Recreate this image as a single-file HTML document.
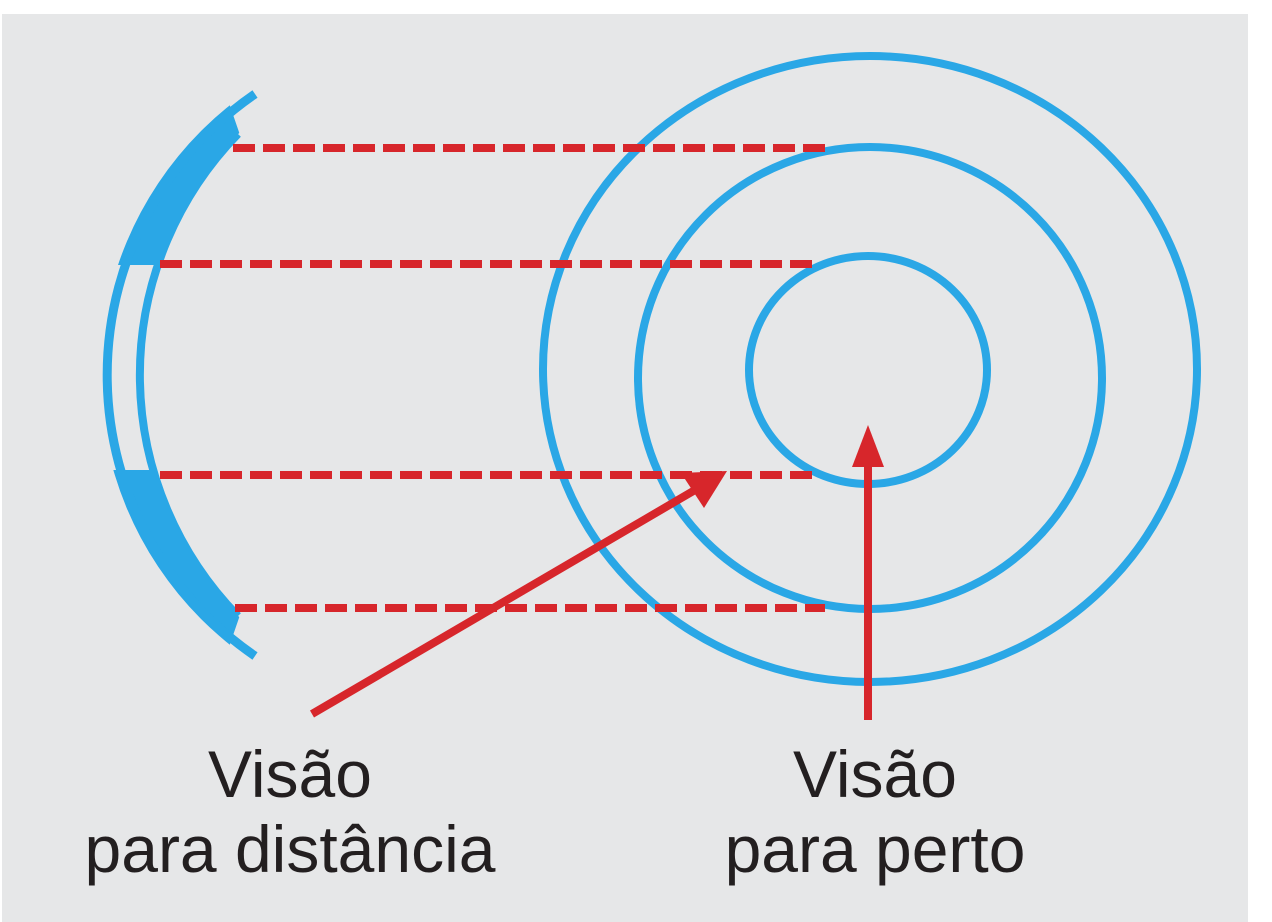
<!DOCTYPE html>
<html><head><meta charset="utf-8"><style>
html,body{margin:0;padding:0;background:#fff;}
svg{display:block;}
text{font-family:"Liberation Sans",Arial,sans-serif;font-size:66px;fill:#231f20;}
</style></head><body>
<svg width="1272" height="922" viewBox="0 0 1272 922">
<defs>
<clipPath id="bands"><polygon points="100,100 228,100 240,135 240,265 100,265"/><polygon points="100,470 240,470 240,615 228,650 100,650"/></clipPath>
</defs>
<rect x="2" y="14" width="1246" height="908" fill="#e6e7e8"/>
<g>
<path clip-path="url(#bands)" fill="#2aa7e6" fill-rule="evenodd" d="M445,30 A345,345 0 0 0 445,720 L700,720 L700,30 Z M485,30 A345,345 0 0 0 485,720 L700,720 L700,30 Z"/>
<path d="M255,94 A341,341 0 0 0 255,656" fill="none" stroke="#2aa7e6" stroke-width="9"/>
<path d="M238,134 A345,345 0 0 0 238,616" fill="none" stroke="#2aa7e6" stroke-width="8"/>
</g>
<g fill="none" stroke="#2aa7e6" stroke-width="8">
<ellipse cx="870" cy="369" rx="327" ry="313"/>
<ellipse cx="870" cy="378" rx="232" ry="231"/>
<ellipse cx="868" cy="370" rx="119" ry="114"/>
</g>
<g stroke="#d7262b" stroke-width="8" stroke-dasharray="22 8">
<line x1="233" y1="148" x2="825" y2="148"/>
<line x1="160" y1="264" x2="812" y2="264"/>
<line x1="160" y1="475" x2="812" y2="475"/>
<line x1="235" y1="608" x2="825" y2="608"/>
</g>
<g>
<line x1="312" y1="714" x2="695" y2="490" stroke="#d7262b" stroke-width="8"/>
<polygon points="727,471 681,473 704,508" fill="#d7262b"/>
</g>
<g>
<line x1="868" y1="720" x2="868" y2="455" stroke="#d7262b" stroke-width="8"/>
<polygon points="868,425 852,467 884,467" fill="#d7262b"/>
</g>
<text x="290" y="797" text-anchor="middle">Visão</text>
<text x="290" y="872" text-anchor="middle">para distância</text>
<text x="875" y="797" text-anchor="middle">Visão</text>
<text x="875" y="872" text-anchor="middle">para perto</text>
</svg>
</body></html>
